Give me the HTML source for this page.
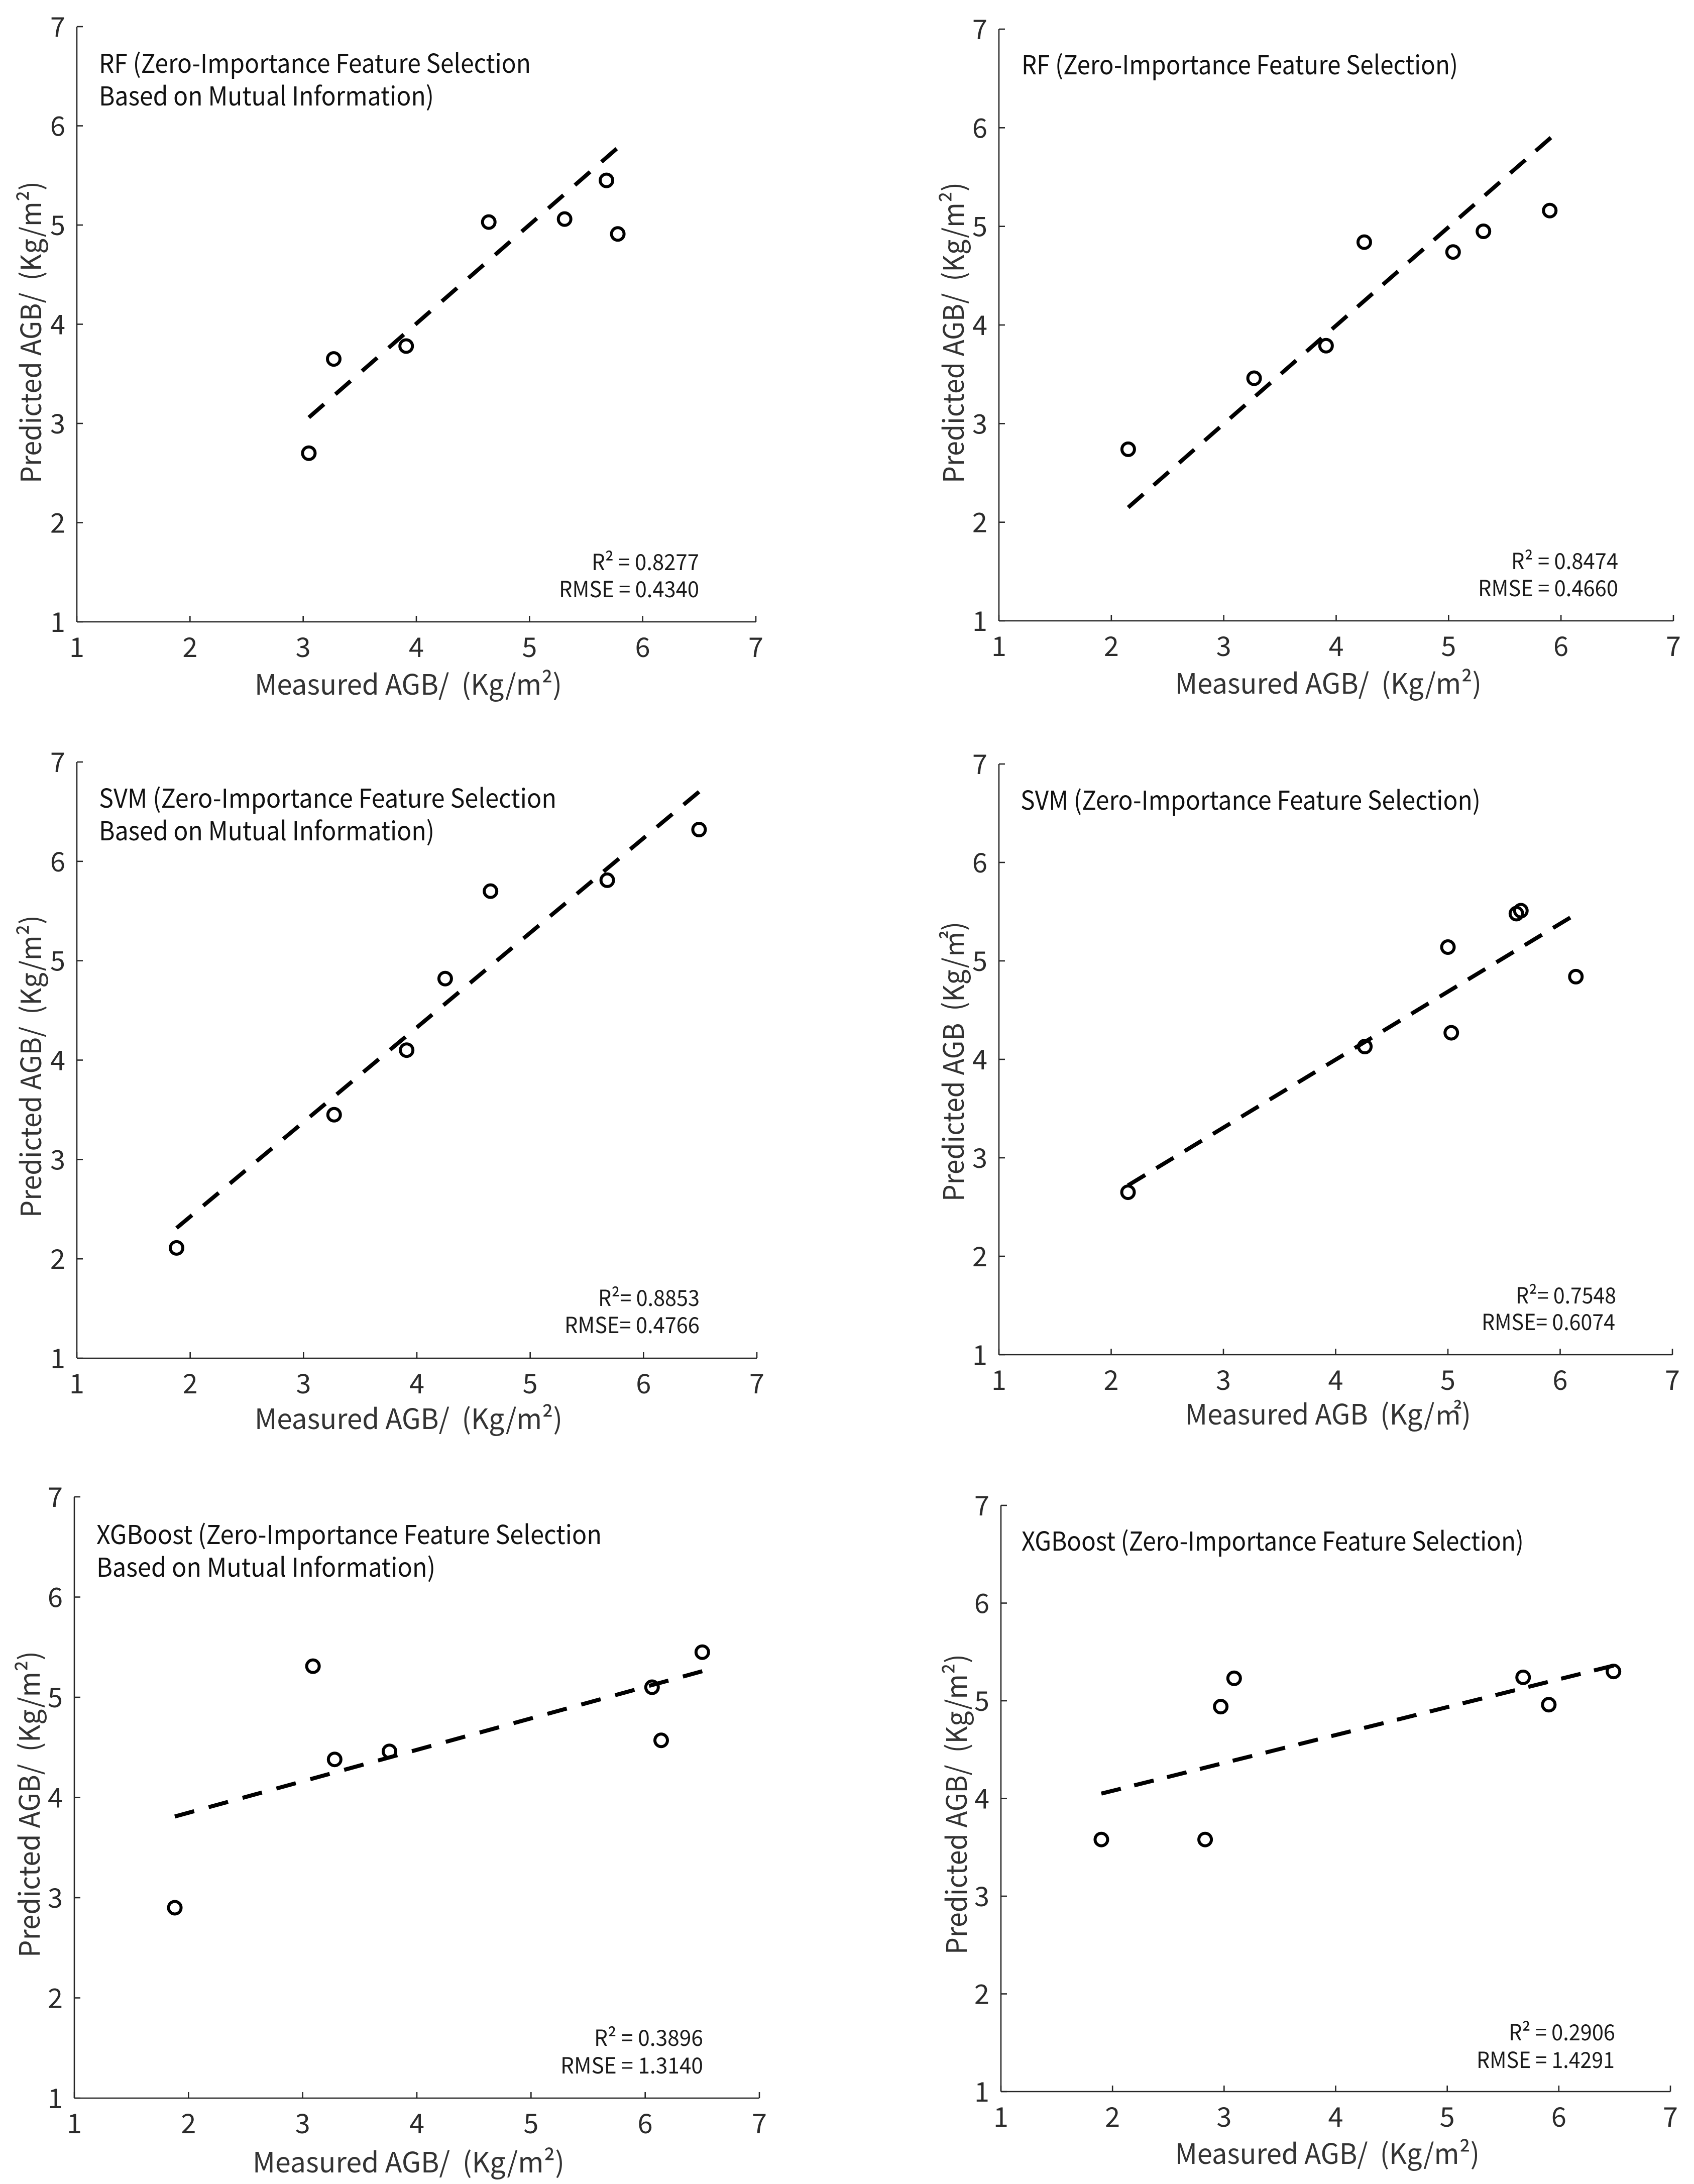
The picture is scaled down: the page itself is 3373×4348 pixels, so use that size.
<!DOCTYPE html>
<html lang="en">
<head>
<meta charset="utf-8">
<title>AGB measured vs predicted scatter plots</title>
<style>
html,body{margin:0;padding:0;background:#fff;}
svg{display:block;}
text{font-family:"Noto Sans CJK SC","Liberation Sans",sans-serif;white-space:pre;}
.title{font-size:52px;fill:#111;}
.stat{font-size:44px;fill:#1a1a1a;}
.axis-label{font-size:56px;fill:#333;}
.tick-label{font-size:54px;fill:#2b2b2b;}
</style>
</head>
<body>
<svg id="figure" xmlns="http://www.w3.org/2000/svg" width="3373" height="4348" viewBox="0 0 3373 4348">
<rect x="0" y="0" width="3373" height="4348" fill="#ffffff"/>

<g id="panel-rf-mi">
<text class="title" x="197" y="145" textLength="860" lengthAdjust="spacingAndGlyphs">RF (Zero-Importance Feature Selection</text>
<text class="title" x="197" y="210" textLength="667" lengthAdjust="spacingAndGlyphs">Based on Mutual Information)</text>
<text class="stat" x="1178" y="1135" textLength="214" lengthAdjust="spacingAndGlyphs">R² = 0.8277</text>
<text class="stat" x="1113" y="1189" textLength="279" lengthAdjust="spacingAndGlyphs">RMSE = 0.4340</text>
<text class="axis-label" x="507" y="1383" textLength="612" lengthAdjust="spacingAndGlyphs">Measured AGB/  (Kg/m²)</text>
<text class="axis-label" transform="translate(82,962) rotate(-90)" textLength="601" lengthAdjust="spacingAndGlyphs">Predicted AGB/  (Kg/m²)</text>
</g>

<g id="panel-rf">
<text class="title" x="2034" y="148" textLength="869" lengthAdjust="spacingAndGlyphs">RF (Zero-Importance Feature Selection)</text>
<text class="stat" x="3009" y="1133" textLength="213" lengthAdjust="spacingAndGlyphs">R² = 0.8474</text>
<text class="stat" x="2943" y="1187" textLength="279" lengthAdjust="spacingAndGlyphs">RMSE = 0.4660</text>
<text class="axis-label" x="2340" y="1381" textLength="610" lengthAdjust="spacingAndGlyphs">Measured AGB/  (Kg/m²)</text>
<text class="axis-label" transform="translate(1919,962) rotate(-90)" textLength="599" lengthAdjust="spacingAndGlyphs">Predicted AGB/  (Kg/m²)</text>
</g>

<g id="panel-svm-mi">
<text class="title" x="197" y="1608" textLength="911" lengthAdjust="spacingAndGlyphs">SVM (Zero-Importance Feature Selection</text>
<text class="title" x="197" y="1673" textLength="668" lengthAdjust="spacingAndGlyphs">Based on Mutual Information)</text>
<text class="stat" x="1191" y="2600" textLength="202" lengthAdjust="spacingAndGlyphs">R²= 0.8853</text>
<text class="stat" x="1124" y="2654" textLength="269" lengthAdjust="spacingAndGlyphs">RMSE= 0.4766</text>
<text class="axis-label" x="507" y="2845" textLength="613" lengthAdjust="spacingAndGlyphs">Measured AGB/  (Kg/m²)</text>
<text class="axis-label" transform="translate(82,2424) rotate(-90)" textLength="602" lengthAdjust="spacingAndGlyphs">Predicted AGB/  (Kg/m²)</text>
</g>

<g id="panel-svm">
<text class="title" x="2032" y="1612" textLength="916" lengthAdjust="spacingAndGlyphs">SVM (Zero-Importance Feature Selection)</text>
<text class="stat" x="3018" y="2595" textLength="200" lengthAdjust="spacingAndGlyphs">R²= 0.7548</text>
<text class="stat" x="2950" y="2648" textLength="266" lengthAdjust="spacingAndGlyphs">RMSE= 0.6074</text>
<text class="axis-label" x="2360" y="2836" textLength="569" lengthAdjust="spacingAndGlyphs">Measured AGB  (Kg/㎡)</text>
<text class="axis-label" transform="translate(1919,2392) rotate(-90)" textLength="557" lengthAdjust="spacingAndGlyphs">Predicted AGB  (Kg/㎡)</text>
</g>

<g id="panel-xgb-mi">
<text class="title" x="192" y="3074" textLength="1006" lengthAdjust="spacingAndGlyphs">XGBoost (Zero-Importance Feature Selection</text>
<text class="title" x="192" y="3139" textLength="675" lengthAdjust="spacingAndGlyphs">Based on Mutual Information)</text>
<text class="stat" x="1183" y="4073" textLength="217" lengthAdjust="spacingAndGlyphs">R² = 0.3896</text>
<text class="stat" x="1116" y="4128" textLength="284" lengthAdjust="spacingAndGlyphs">RMSE = 1.3140</text>
<text class="axis-label" x="503" y="4325" textLength="621" lengthAdjust="spacingAndGlyphs">Measured AGB/  (Kg/m²)</text>
<text class="axis-label" transform="translate(79,3897) rotate(-90)" textLength="610" lengthAdjust="spacingAndGlyphs">Predicted AGB/  (Kg/m²)</text>
</g>

<g id="panel-xgb">
<text class="title" x="2034" y="3087" textLength="1000" lengthAdjust="spacingAndGlyphs">XGBoost (Zero-Importance Feature Selection)</text>
<text class="stat" x="3004" y="4062" textLength="212" lengthAdjust="spacingAndGlyphs">R² = 0.2906</text>
<text class="stat" x="2940" y="4117" textLength="275" lengthAdjust="spacingAndGlyphs">RMSE = 1.4291</text>
<text class="axis-label" x="2340" y="4308" textLength="606" lengthAdjust="spacingAndGlyphs">Measured AGB/  (Kg/m²)</text>
<text class="axis-label" transform="translate(1925,3891) rotate(-90)" textLength="598" lengthAdjust="spacingAndGlyphs">Predicted AGB/  (Kg/m²)</text>
</g>
</svg>

<script>
const tickValues = [1, 2, 3, 4, 5, 6, 7];
const tickLabels = ['1', '2', '3', '4', '5', '6', '7'];
const axisMin = 1;
const axisMax = 7;

const rfMiMeasured = [3.05, 3.27, 3.91, 4.64, 5.31, 5.68, 5.78];
const rfMiPredicted = [2.70, 3.65, 3.78, 5.03, 5.06, 5.45, 4.91];
const rfMiFitX = [3.05, 5.77];
const rfMiFitY = [3.06, 5.77];

const rfMeasured = [2.15, 3.27, 3.91, 4.25, 5.04, 5.31, 5.90];
const rfPredicted = [2.74, 3.46, 3.79, 4.84, 4.74, 4.95, 5.16];
const rfFitX = [2.15, 5.91];
const rfFitY = [2.15, 5.90];

const svmMiMeasured = [1.88, 3.27, 3.91, 4.25, 4.65, 5.68, 6.49];
const svmMiPredicted = [2.11, 3.45, 4.10, 4.82, 5.70, 5.81, 6.32];
const svmMiFitX = [1.88, 6.49];
const svmMiFitY = [2.31, 6.70];

const svmMeasured = [2.15, 4.26, 5.00, 5.03, 5.61, 5.65, 6.14];
const svmPredicted = [2.65, 4.13, 5.14, 4.27, 5.48, 5.51, 4.84];
const svmFitX = [2.15, 6.09];
const svmFitY = [2.72, 5.44];

const xgbMiMeasured = [1.88, 3.09, 3.28, 3.76, 6.06, 6.14, 6.50];
const xgbMiPredicted = [2.90, 5.31, 4.38, 4.46, 5.10, 4.57, 5.45];
const xgbMiFitX = [1.88, 6.50];
const xgbMiFitY = [3.81, 5.26];

const xgbMeasured = [1.90, 2.83, 2.97, 3.09, 5.68, 5.91, 6.49];
const xgbPredicted = [3.58, 3.58, 4.94, 5.23, 5.24, 4.96, 5.30];
const xgbFitX = [1.90, 6.49];
const xgbFitY = [4.05, 5.36];

const SVG_NS = 'http://www.w3.org/2000/svg';

function make(parent, tag, attrs, content) {
  const el = document.createElementNS(SVG_NS, tag);
  Object.keys(attrs).forEach(function (k) { el.setAttribute(k, attrs[k]); });
  if (content !== undefined) el.textContent = content;
  parent.appendChild(el);
  return el;
}

function fitDash(len) {
  const dash = 40;
  const nominalGap = 28;
  const n = Math.max(2, Math.round((len + nominalGap) / (dash + nominalGap)));
  const gap = (len - n * dash) / (n - 1);
  return dash + ' ' + gap;
}

function drawPanel(id, box, xs, ys, fitX, fitY) {
  const g = document.getElementById(id);
  const xScale = function (v) { return box.left + (v - axisMin) / (axisMax - axisMin) * (box.right - box.left); };
  const yScale = function (v) { return box.bottom - (v - axisMin) / (axisMax - axisMin) * (box.bottom - box.top); };
  const axisStyle = { stroke: '#262626', 'stroke-width': 2.6, fill: 'none' };

  const xAxis = make(g, 'line', Object.assign({ x1: box.left, x2: box.right, y1: box.bottom, y2: box.bottom }, axisStyle));
  
  
  const yAxis = make(g, 'line', Object.assign({ x1: box.left, x2: box.left, y1: box.top, y2: box.bottom }, axisStyle));
  
  

  tickValues.forEach(function (v, i) {
    const xT = make(g, 'line', Object.assign({ x1: xScale(v), x2: xScale(v), y1: box.bottom, y2: box.bottom - 12 }, axisStyle));
    
    
    const yT = make(g, 'line', Object.assign({ x1: box.left, x2: box.left + 12, y1: yScale(v), y2: yScale(v) }, axisStyle));
    
    
    const xL = make(g, 'text', { 'class': 'tick-label', x: xScale(v), y: box.bottom + 70, 'text-anchor': 'middle' }, tickLabels[i]);
    
    
    const yL = make(g, 'text', { 'class': 'tick-label', x: box.left - 23, y: yScale(v) + 20, 'text-anchor': 'end' }, tickLabels[i]);
    
    
  });

  const x1 = xScale(fitX[0]);
  const y1 = yScale(fitY[0]);
  const x2 = xScale(fitX[1]);
  const y2 = yScale(fitY[1]);
  const fit = make(g, 'line', {
    x1: x1, y1: y1, x2: x2, y2: y2,
    stroke: '#000', 'stroke-width': 8, 'stroke-dasharray': fitDash(Math.hypot(x2 - x1, y2 - y1)), fill: 'none'
  });
  
  

  xs.forEach(function (x, i) {
    const pt = make(g, 'circle', {
      cx: xScale(x), cy: yScale(ys[i]), r: 12.5,
      fill: 'none', stroke: '#000', 'stroke-width': 6
    });
    
    
  });
}

drawPanel('panel-rf-mi',  { left: 153,  right: 1505, top: 53,   bottom: 1238 }, rfMiMeasured,  rfMiPredicted,  rfMiFitX,  rfMiFitY);
drawPanel('panel-rf',     { left: 1989, right: 3332, top: 58,   bottom: 1236 }, rfMeasured,    rfPredicted,    rfFitX,    rfFitY);
drawPanel('panel-svm-mi', { left: 153,  right: 1507, top: 1517, bottom: 2704 }, svmMiMeasured, svmMiPredicted, svmMiFitX, svmMiFitY);
drawPanel('panel-svm',    { left: 1989, right: 3330, top: 1521, bottom: 2697 }, svmMeasured,   svmPredicted,   svmFitX,   svmFitY);
drawPanel('panel-xgb-mi', { left: 148,  right: 1512, top: 2980, bottom: 4177 }, xgbMiMeasured, xgbMiPredicted, xgbMiFitX, xgbMiFitY);
drawPanel('panel-xgb',    { left: 1993, right: 3326, top: 2997, bottom: 4164 }, xgbMeasured,   xgbPredicted,   xgbFitX,   xgbFitY);
</script>
</body>
</html>
